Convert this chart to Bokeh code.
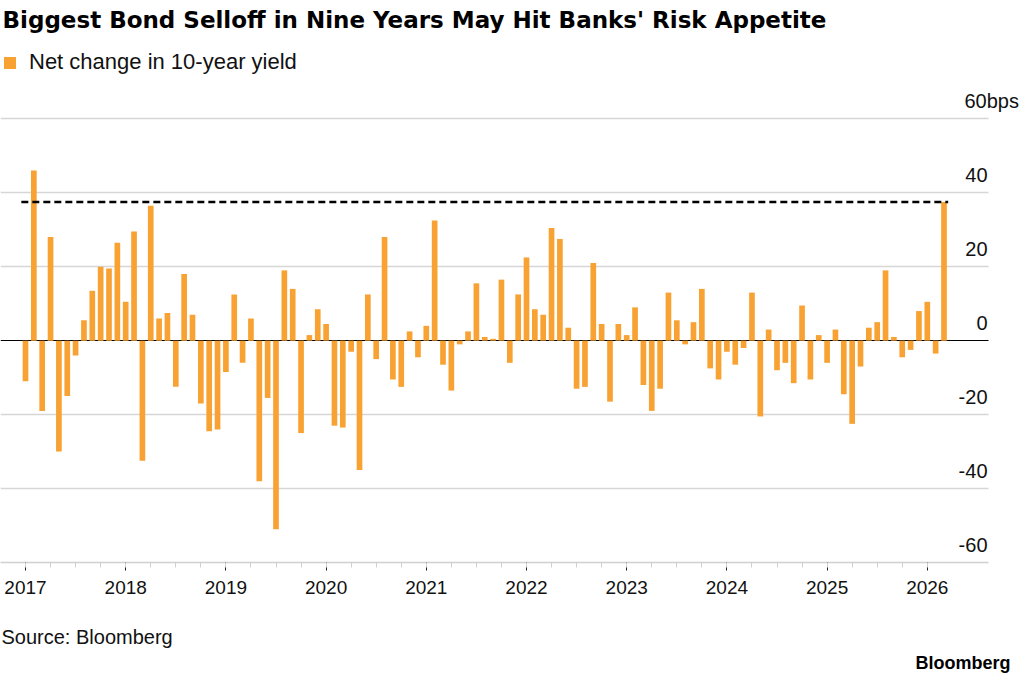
from bokeh.plotting import figure
from bokeh.layouts import column
from bokeh.models import FixedTicker, Label, Legend, LegendItem, Grid
from bokeh.embed import file_html
from bokeh.resources import INLINE

# ---------------- data ----------------
title_text = "Biggest Bond Selloff in Nine Years May Hit Banks' Risk Appetite"
series_name = "Net change in 10-year yield"
source_text = "Source: Bloomberg"
brand_text = "Bloomberg"
y_unit = "bps"

years = ["2017", "2018", "2019", "2020", "2021", "2022", "2023", "2024", "2025", "2026"]
y_ticks = [-60, -40, -20, 0, 20, 40, 60]

# monthly net change in 10-year yield (bps), Jan 2017 .. Mar 2026
v2017 = [-11, 46, -19, 28, -30, -15, -4, 5.5, 13.5, 20, 19.5, 26.5]
v2018 = [10.5, 29.5, -32.5, 36.5, 6, 7.5, -12.5, 18, 7, -17, -24.5, -24]
v2019 = [-8.5, 12.5, -6, 6, -38, -15.5, -51, 19, 14, -25, 1.5, 8.5]
v2020 = [4.5, -23, -23.5, -3, -35, 12.5, -5, 28, -10.5, -12.5, 2.5, -4.5]
v2021 = [4, 32.5, -6.5, -13.5, -1, 2.5, 15.5, 1, 0.5, 16.5, -6, 12.5]
v2022 = [22.5, 8.5, 7, 30.5, 27.5, 3.5, -13, -12.5, 21, 4.5, -16.5, 4.5]
v2023 = [1.5, 9, -12, -19, -13, 13, 5.5, -1, 5, 14, -7.5, -10.5]
v2024 = [-3, -6.5, -2, 13, -20.5, 3, -8, -6, -11.5, 9.5, -10.5, 1.5]
v2025 = [-6, 3, -14.5, -22.5, -7, 3.5, 5, 19, 1, -4.5, -2.5, 8]
v2026 = [10.5, -3.5, 37.5]

values = v2017 + v2018 + v2019 + v2020 + v2021 + v2022 + v2023 + v2024 + v2025 + v2026
months = list(range(len(values)))

# ---------------- layout ----------------
W, H = 1024, 678
FH = 562                         # frame from top of canvas down to the x axis
BB = 48                          # room for the x axis
FOOT_H = H - FH - BB             # footer strip with source and brand
PX_M = 8.35                      # px per month
X_ZERO = 25                      # px where month 0 sits
X0 = -X_ZERO / PX_M
X1 = X0 + W / PX_M
Y_TOP_GRID = 118.3               # px of the top gridline
PX_Y = (FH - Y_TOP_GRID) / (y_ticks[-1] - y_ticks[0])
Y0 = y_ticks[0]
Y1 = Y0 + FH / PX_Y
GRID_END = 988                   # px where gridlines stop

def xd(px):
    return X0 + px / PX_M

def yd(py):
    return Y0 + (FH - py) / PX_Y

ORANGE = "#F8A233"
FONT = "Liberation Sans"

p = figure(frame_width=W, frame_height=FH,
           min_border_top=0, min_border_bottom=BB,
           min_border_left=0, min_border_right=0,
           x_range=(X0, X1), y_range=(Y0, Y1),
           y_axis_location=None, toolbar_location=None,
           output_backend="svg", title=None)
p.outline_line_color = None
p.background_fill_color = "white"
p.border_fill_color = "white"
for g in p.xgrid:
    g.visible = False
for g in p.ygrid:
    g.visible = False

def hgrid(ticks, color, width):
    g = Grid(dimension=1, ticker=FixedTicker(ticks=ticks),
             grid_line_color=color, grid_line_width=width)
    try:
        g.cross_bounds = (X0, xd(GRID_END))
    except Exception:
        pass
    p.add_layout(g)

hgrid([t for t in y_ticks if t != 0], "#d6d6d6", 1.3)
hgrid([0], "black", 1.2)

# x axis
xa = p.xaxis[0]
xa.bounds = (X0, xd(GRID_END))
xa.ticker = FixedTicker(ticks=[12 * i for i in range(len(years))],
                        minor_ticks=[3 * i for i in range(4 * (len(years) - 1) + 1)])
xa.major_label_overrides = {12 * i: y for i, y in enumerate(years)}
xa.axis_line_color = "#d0d0d0"
xa.axis_line_width = 1.3
xa.major_tick_line_color = "#222222"
xa.major_tick_in = 0
xa.major_tick_out = 8
xa.minor_tick_line_color = "#cfcfcf"
xa.minor_tick_in = 0
xa.minor_tick_out = 5
xa.major_label_standoff = 10
xa.major_label_text_font = FONT
xa.major_label_text_font_size = "19px"
xa.major_label_text_color = "#111111"

# bars
bars = p.vbar(x=months, top=values, width=0.68, bottom=0,
              fill_color=ORANGE, line_color=None)

# dashed reference line at latest value
p.segment(x0=[months[0] - 0.5], x1=[months[-1] + 0.5],
          y0=[values[-1]], y1=[values[-1]],
          line_color="black", line_width=2.6, line_dash="7 4")

# y labels on the right, above gridlines (label y = text centre)
LAB_UP = 17.5
for t in y_ticks:
    if t == y_ticks[-1]:
        p.add_layout(Label(x=xd(964), y=t + LAB_UP / PX_Y,
                           text=f"{t}{y_unit}", text_align="left",
                           text_baseline="alphabetic", text_font=FONT,
                           text_font_size="20px", text_color="#111111"))
    else:
        p.add_layout(Label(x=xd(987), y=t + LAB_UP / PX_Y,
                           text=str(t), text_align="right",
                           text_baseline="alphabetic", text_font=FONT,
                           text_font_size="20px", text_color="#111111"))

# title
p.add_layout(Label(x=xd(2), y=yd(19), text=title_text, text_align="left",
                   text_baseline="alphabetic", text_font="DejaVu Sans",
                   text_font_style="bold", text_font_size="23px", text_color="black"))

# legend
legend = Legend(items=[LegendItem(label=series_name, renderers=[bars])],
                location=(2, FH - 75), orientation="horizontal",
                padding=0, margin=0, spacing=0,
                glyph_width=15, glyph_height=15, label_standoff=12,
                label_height=20, label_text_font=FONT, label_text_font_size="22px",
                label_text_color="#111111",
                border_line_color=None, background_fill_alpha=0)
p.add_layout(legend)

# ---------------- footer strip ----------------
TOP_FOOT = FH + BB
f = figure(frame_width=W, frame_height=FOOT_H,
           min_border_top=0, min_border_bottom=0,
           min_border_left=0, min_border_right=0,
           x_range=(0, W), y_range=(0, FOOT_H),
           x_axis_location=None, y_axis_location=None,
           toolbar_location=None, output_backend="svg", title=None)
f.outline_line_color = None
f.background_fill_color = "white"
f.border_fill_color = "white"
for g in f.grid:
    g.visible = False

def fy(py):
    return FOOT_H - (py - TOP_FOOT)

f.add_layout(Label(x=1, y=fy(636), text=source_text, text_align="left",
                   text_baseline="alphabetic", text_font=FONT,
                   text_font_size="20px", text_color="#111111"))
f.add_layout(Label(x=1010, y=fy(662), text=brand_text, text_align="right",
                   text_baseline="alphabetic", text_font=FONT,
                   text_font_style="bold", text_font_size="18px", text_color="black"))

layout = column(p, f, spacing=0)
open("out.html", "w").write(file_html(layout, INLINE))
